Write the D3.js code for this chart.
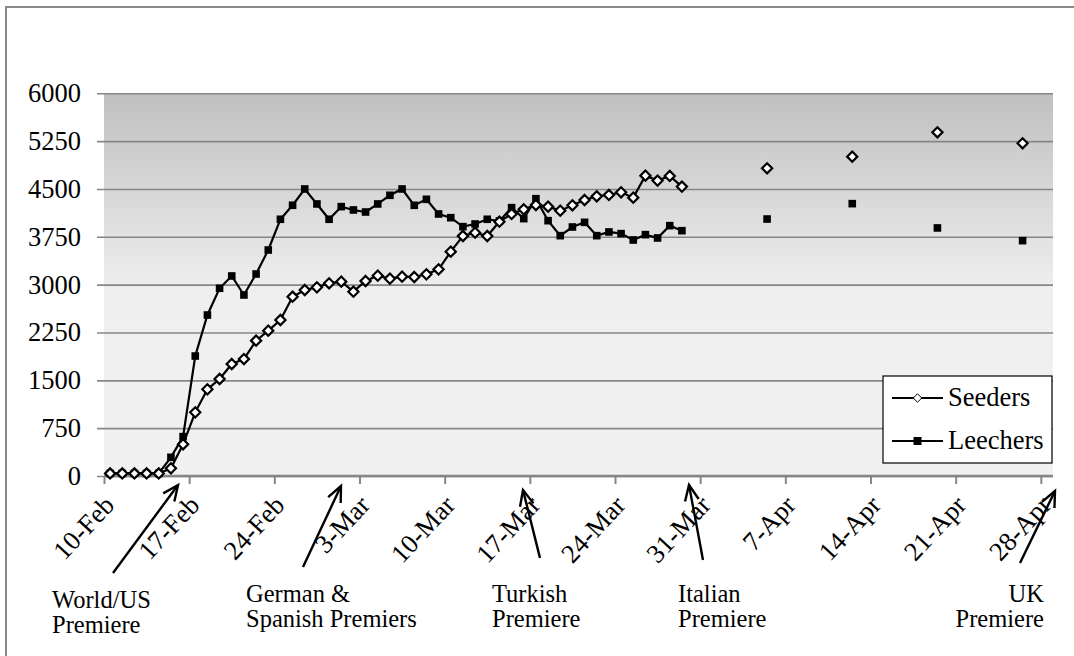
<!DOCTYPE html>
<html>
<head>
<meta charset="utf-8">
<script src="https://cdn.jsdelivr.net/npm/d3@7"></script>
</head>
<body style="margin:0;background:#fff">
<svg id="chart" width="1074" height="656" font-family="Liberation Serif" style="display:block;font-family:'Liberation Serif'"></svg>
<script>
// ---------------- data ----------------
const dates = [
  "2009-02-10","2009-02-11","2009-02-12","2009-02-13","2009-02-14","2009-02-15","2009-02-16",
  "2009-02-17","2009-02-18","2009-02-19","2009-02-20","2009-02-21","2009-02-22","2009-02-23",
  "2009-02-24","2009-02-25","2009-02-26","2009-02-27","2009-02-28","2009-03-01","2009-03-02",
  "2009-03-03","2009-03-04","2009-03-05","2009-03-06","2009-03-07","2009-03-08","2009-03-09",
  "2009-03-10","2009-03-11","2009-03-12","2009-03-13","2009-03-14","2009-03-15","2009-03-16",
  "2009-03-17","2009-03-18","2009-03-19","2009-03-20","2009-03-21","2009-03-22","2009-03-23",
  "2009-03-24","2009-03-25","2009-03-26","2009-03-27","2009-03-28","2009-03-29",
  "2009-04-05","2009-04-12","2009-04-19","2009-04-26"
];
const seeders = [
  40,40,40,40,40,120,497,
  998,1359,1521,1756,1834,2122,2279,
  2446,2811,2916,2958,3021,3047,2890,
  3057,3141,3094,3125,3120,3162,3240,
  3517,3763,3815,3763,3987,4108,4181,
  4249,4223,4160,4244,4327,4385,4406,
  4448,4364,4709,4631,4704,4537,
  4824,5007,5389,5216
];
const leechers = [
  40,40,40,40,40,293,617,
  1881,2524,2943,3136,2838,3167,3543,
  4025,4245,4500,4265,4025,4223,4171,
  4139,4265,4401,4500,4244,4338,4108,
  4050,3909,3951,4025,3998,4207,4035,
  4348,4003,3768,3904,3977,3768,3826,
  3800,3700,3784,3732,3925,3846,
  4029,4270,3889,3690
];
const seriesNames = ["Seeders", "Leechers"];
const yTicks = [0, 750, 1500, 2250, 3000, 3750, 4500, 5250, 6000];
const xTickDates = ["2009-02-10","2009-02-17","2009-02-24","2009-03-03","2009-03-10","2009-03-17",
  "2009-03-24","2009-03-31","2009-04-07","2009-04-14","2009-04-21","2009-04-28"];
const xDomain = ["2009-02-10", "2009-04-29"];
const annotations = [
  { lines: ["World/US", "Premiere"], anchor: "start" },
  { lines: ["German &", "Spanish Premiers"], anchor: "start" },
  { lines: ["Turkish", "Premiere"], anchor: "start" },
  { lines: ["Italian", "Premiere"], anchor: "start" },
  { lines: ["UK", "Premiere"], anchor: "end" }
];

// ---------------- layout ----------------
const FONT = "Liberation Serif";
const svg = d3.select("#chart");
const plot = { left: 104, right: 1053, top: 93.3, bottom: 476 };
const parse = d3.utcParse("%Y-%m-%d");
const fmt = d3.utcFormat("%-d-%b");

const x = d3.scaleUtc().domain(xDomain.map(parse)).range([plot.left, plot.right]);
const y = d3.scaleLinear().domain([0, 6000]).range([plot.bottom, plot.top]);
const center = d => d3.utcHour.offset(d, 12);

// outer frame
svg.append("rect").attr("x", 6).attr("y", 7).attr("width", 1200).attr("height", 800)
  .attr("fill", "none").attr("stroke", "#8a8a8a").attr("stroke-width", 2);

// plot background gradient
const defs = svg.append("defs");
const grad = defs.append("linearGradient").attr("id", "bg").attr("x1", 0).attr("y1", 0).attr("x2", 0).attr("y2", 1);
grad.append("stop").attr("offset", "0%").attr("stop-color", "#c0c0c0");
grad.append("stop").attr("offset", "52%").attr("stop-color", "#efefef");
grad.append("stop").attr("offset", "100%").attr("stop-color", "#f1f1f1");
svg.append("rect").attr("x", plot.left).attr("y", plot.top)
  .attr("width", plot.right - plot.left).attr("height", plot.bottom - plot.top)
  .attr("fill", "url(#bg)");

// y axis: gridlines + labels
const yAxis = d3.axisLeft(y).tickValues(yTicks).tickSize(0).tickFormat(d3.format("d"));
const gy = svg.append("g").attr("transform", `translate(${plot.left},0)`).call(yAxis)
  .attr("font-family", FONT).attr("font-size", 26.5);
gy.select(".domain").remove();
gy.selectAll(".tick line").attr("stroke", "#868686").attr("stroke-width", 1.6)
  .attr("x1", -7).attr("x2", plot.right - plot.left);
gy.selectAll(".tick text").attr("x", -23).attr("fill", "#000")
  .attr("font-family", FONT).style("font-family", FONT);

// x axis
const xAxis = d3.axisBottom(x).tickValues(xTickDates.map(parse)).tickSize(8).tickFormat(() => "");
const gx = svg.append("g").attr("transform", `translate(0,${plot.bottom})`).call(xAxis);
gx.select(".domain").attr("stroke", "#868686").attr("stroke-width", 2.5).attr("d", `M${plot.left},0H${plot.right}`);
gx.selectAll(".tick line").attr("stroke", "#868686").attr("stroke-width", 2);
svg.append("g").attr("font-family", FONT)
  .selectAll("text").data(xTickDates).join("text")
  .attr("font-family", FONT).style("font-family", FONT).attr("font-size", 26.5)
  .attr("transform", d => `translate(${x(parse(d)) + 5},${plot.bottom + 24}) rotate(-47)`)
  .attr("text-anchor", "end").attr("dy", "0.35em")
  .text(d => fmt(parse(d)));

// series
const pts = dates.map((d, i) => ({ date: parse(d), s: seeders[i], l: leechers[i] }));
function segments() {
  const segs = [];
  let cur = [];
  pts.forEach((p, i) => {
    if (i > 0 && d3.utcDay.count(pts[i - 1].date, p.date) !== 1) { segs.push(cur); cur = []; }
    cur.push(p);
  });
  segs.push(cur);
  return segs.filter(s => s.length > 1);
}
const line = key => d3.line().x(p => x(center(p.date))).y(p => y(p[key]));

["l", "s"].forEach(key => {
  svg.append("g").selectAll("path").data(segments()).join("path")
    .attr("d", line(key)).attr("fill", "none").attr("stroke", "#000").attr("stroke-width", 2.2);
});

const diamond = d3.symbol().type(d3.symbolDiamond2).size(66);
svg.append("g").selectAll("rect").data(pts).join("rect")
  .attr("x", p => x(center(p.date)) - 3.8).attr("y", p => y(p.l) - 3.8)
  .attr("width", 7.6).attr("height", 7.6).attr("fill", "#000");
svg.append("g").selectAll("path").data(pts).join("path")
  .attr("transform", p => `translate(${x(center(p.date))},${y(p.s)})`)
  .attr("d", diamond).attr("fill", "#fff").attr("stroke", "#000").attr("stroke-width", 2.2);

// legend
const lg = svg.append("g");
lg.append("rect").attr("x", 883).attr("y", 376).attr("width", 169).attr("height", 87)
  .attr("fill", "#fff").attr("stroke", "#000").attr("stroke-width", 1.2);
const legendRows = [{ name: seriesNames[0], y: 398 }, { name: seriesNames[1], y: 441 }];
legendRows.forEach((r, i) => {
  lg.append("line").attr("x1", 892).attr("x2", 943).attr("y1", r.y).attr("y2", r.y)
    .attr("stroke", "#000").attr("stroke-width", 2.2);
  if (i === 0) {
    lg.append("path").attr("transform", `translate(917.5,${r.y})`)
      .attr("d", d3.symbol().type(d3.symbolDiamond2).size(46)).attr("fill", "#fff").attr("stroke", "#000").attr("stroke-width", 1);
  } else {
    lg.append("rect").attr("x", 913.5).attr("y", r.y - 4).attr("width", 8).attr("height", 8).attr("fill", "#000");
  }
  lg.append("text").attr("x", 948).attr("y", r.y + 8)
    .attr("font-family", FONT).style("font-family", FONT).attr("font-size", 26.5).text(r.name);
});

// annotations with arrows
const arrowSpecs = [
  { tail: [113, 573], tip: [178, 485], tx: 52, ty: 608 },
  { tail: [303, 567], tip: [341, 486], tx: 246, ty: 602 },
  { tail: [540, 558], tip: [523, 490], tx: 492, ty: 602 },
  { tail: [703, 560], tip: [689, 485], tx: 678, ty: 602 },
  { tail: [1020, 563], tip: [1055, 491], tx: 1044, ty: 602 }
];
const ag = svg.append("g");
annotations.forEach((a, i) => {
  const s = arrowSpecs[i];
  ag.append("line").attr("x1", s.tail[0]).attr("y1", s.tail[1]).attr("x2", s.tip[0]).attr("y2", s.tip[1])
    .attr("stroke", "#000").attr("stroke-width", 2.4);
  const ang = Math.atan2(s.tip[1] - s.tail[1], s.tip[0] - s.tail[0]);
  const L = 17, spread = 0.42;
  const p1 = [s.tip[0] - L * Math.cos(ang - spread), s.tip[1] - L * Math.sin(ang - spread)];
  const p2 = [s.tip[0] - L * Math.cos(ang + spread), s.tip[1] - L * Math.sin(ang + spread)];
  ag.append("path").attr("d", `M${p1[0]},${p1[1]}L${s.tip[0]},${s.tip[1]}L${p2[0]},${p2[1]}`)
    .attr("fill", "none").attr("stroke", "#000").attr("stroke-width", 2.4).attr("stroke-linejoin", "miter");
  const t = ag.append("text").attr("x", s.tx).attr("y", s.ty).attr("text-anchor", a.anchor)
    .attr("font-family", FONT).style("font-family", FONT).attr("font-size", 24.5);
  a.lines.forEach((ln, j) => t.append("tspan").attr("x", s.tx).attr("dy", j === 0 ? 0 : 25).text(ln));
});
</script>
</body>
</html>
